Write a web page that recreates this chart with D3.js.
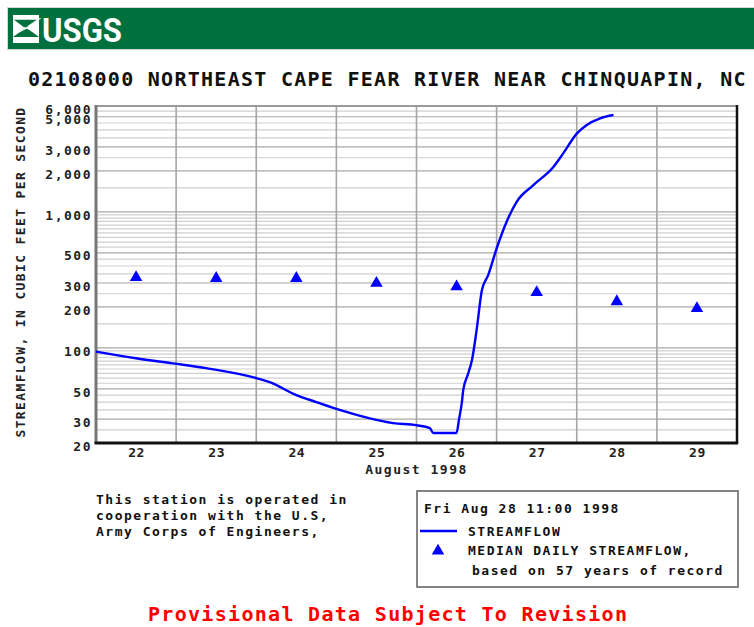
<!DOCTYPE html>
<html>
<head>
<meta charset="utf-8">
<script src="https://cdn.jsdelivr.net/npm/d3@7"></script>
<style>
  body { margin: 0; background: #fff; }
  svg { display: block; }
  .mono { font-family: "DejaVu Sans Mono", "Liberation Mono", monospace; font-weight: bold; }
</style>
</head>
<body>
<svg id="chart" width="754" height="627"></svg>
<script>
var stationTitle = "02108000 NORTHEAST CAPE FEAR RIVER NEAR CHINQUAPIN, NC";
var yTitle = "STREAMFLOW, IN CUBIC FEET PER SECOND";
var xTitle = "August 1998";

// streamflow, hours after Aug 22 00:00
var flowHours  = [0, 12, 23, 33, 48, 52, 60, 66, 73, 89, 96, 100, 101, 108, 108.7, 109.6, 110, 111.5, 112.6, 114, 115.6, 117.5, 120, 123, 126, 131, 137, 140, 144, 147, 151, 155];
var flowValues = [94, 84, 77, 71, 60, 56, 45, 40, 35, 28, 27, 25.7, 23.7, 23.7, 29.5, 40, 49, 65, 81, 135, 266, 344, 538, 846, 1186, 1572, 2140, 2700, 3760, 4350, 4870, 5150];

// median daily streamflow (57 years)
var medianDays   = ["1998-08-22", "1998-08-23", "1998-08-24", "1998-08-25", "1998-08-26", "1998-08-27", "1998-08-28", "1998-08-29"];
var medianValues = [330, 325, 325, 299, 282, 256, 219, 195];

var yTickValues = [20, 30, 50, 100, 200, 300, 500, 1000, 2000, 3000, 5000, 6000];
var noteLines = ["This station is operated in", "cooperation with the U.S,", "Army Corps of Engineers,"];
var legendDate = "Fri Aug 28 11:00 1998";

var parseDay = d3.timeParse("%Y-%m-%d");
var start = parseDay("1998-08-22");
var end = parseDay("1998-08-30");

var svg = d3.select("svg#chart");

var plot = { left: 96, right: 737, top: 106, bottom: 443 };

var x = d3.scaleTime().domain([start, end]).range([plot.left, plot.right]);
var y = d3.scaleLog().domain([20, 6000]).range([plot.bottom, plot.top]);

// header bar
svg.append("rect").attr("x", 7).attr("y", 7).attr("width", 748).attr("height", 43).attr("fill", "#cfd8d2");
svg.append("rect").attr("x", 8).attr("y", 8).attr("width", 746).attr("height", 41).attr("fill", "#00703f");
var logo = svg.append("g").attr("transform", "translate(13,15)");
logo.append("rect").attr("width", 26).attr("height", 28).attr("fill", "#fff");
logo.append("path").attr("d", "M0,4 L26,4 L14,13 L26,22 L0,22 L12,13 Z").attr("fill", "#00703f");
logo.append("path").attr("d", "M0,4 L26,4 L16,11 L26,11").attr("fill", "none").attr("stroke", "#fff").attr("stroke-width", 1.5);
[15, 17.5, 20].forEach(function(yy) {
  logo.append("path").attr("d", "M1," + yy + " Q8," + (yy - 4) + " 14,13 Q20," + (yy - 3) + " 25," + yy)
    .attr("fill", "none").attr("stroke", "#fff").attr("stroke-width", 1);
});
svg.append("text").attr("x", 42).attr("y", 42)
  .attr("font-family", "'Liberation Sans Narrow', 'Roboto', sans-serif").attr("font-weight", "bold")
  .attr("font-size", 33).attr("fill", "#fff")
  .attr("textLength", 80).attr("lengthAdjust", "spacingAndGlyphs")
  .text("USGS");

// title
svg.append("text").attr("class", "mono").attr("x", 28).attr("y", 86)
  .attr("font-size", 20).attr("letter-spacing", "1.27px").attr("fill", "#111")
  .text(stationTitle);

// grid: horizontal log lines
var gridValues = d3.range(20, 100, 5).concat(d3.range(100, 1000, 50)).concat(d3.range(1000, 6001, 500));
svg.append("g").selectAll("line").data(gridValues).enter().append("line")
  .attr("x1", plot.left).attr("x2", plot.right)
  .attr("y1", function(d) { return y(d); }).attr("y2", function(d) { return y(d); })
  .attr("stroke", function(d) { return yTickValues.indexOf(d) >= 0 ? "#a8a8a8" : "#cfcfcf"; })
  .attr("stroke-width", 1.2);

// grid: day boundaries
var dayLines = d3.timeDay.range(d3.timeDay.offset(start, 1), end);
svg.append("g").selectAll("line").data(dayLines).enter().append("line")
  .attr("x1", function(d) { return x(d); }).attr("x2", function(d) { return x(d); })
  .attr("y1", plot.top).attr("y2", plot.bottom)
  .attr("stroke", "#a5a5a5").attr("stroke-width", 1.6);

// frame
svg.append("line").attr("x1", plot.left).attr("x2", plot.right).attr("y1", plot.top).attr("y2", plot.top)
  .attr("stroke", "#9a9a9a").attr("stroke-width", 2);
svg.append("line").attr("x1", plot.right).attr("x2", plot.right).attr("y1", plot.top - 1).attr("y2", plot.bottom)
  .attr("stroke", "#111").attr("stroke-width", 2.5);
svg.append("line").attr("x1", plot.left).attr("x2", plot.left).attr("y1", plot.top - 1).attr("y2", plot.bottom)
  .attr("stroke", "#777").attr("stroke-width", 3);
svg.append("line").attr("x1", plot.left - 1.5).attr("x2", plot.right + 1.2).attr("y1", plot.bottom).attr("y2", plot.bottom)
  .attr("stroke", "#111").attr("stroke-width", 3);

// y axis labels
var yAxis = d3.axisLeft(y).tickValues(yTickValues).tickSize(0).tickPadding(0).tickFormat(d3.format(","));
var yAxisG = svg.append("g").attr("transform", "translate(" + (plot.left - 4) + ",3)").call(yAxis);
yAxisG.select(".domain").remove();
yAxisG.selectAll("text").attr("class", "mono").attr("font-size", 13).attr("letter-spacing", "1.5px").attr("fill", "#222");

// x axis labels at noon
var noon = d3.timeDay.range(start, end).map(function(d) { return d3.timeHour.offset(d, 12); });
var xAxis = d3.axisBottom(x).tickValues(noon).tickSize(0).tickPadding(0).tickFormat(d3.timeFormat("%d"));
var xAxisG = svg.append("g").attr("transform", "translate(0," + (plot.bottom + 5) + ")").call(xAxis);
xAxisG.select(".domain").remove();
xAxisG.selectAll("text").attr("class", "mono").attr("font-size", 13).attr("letter-spacing", "0.5px").attr("fill", "#222");

svg.append("text").attr("class", "mono").attr("x", (plot.left + plot.right) / 2).attr("y", 474)
  .attr("text-anchor", "middle").attr("font-size", 13).attr("letter-spacing", "1.5px").attr("fill", "#222")
  .text(xTitle);

svg.append("text").attr("class", "mono").attr("transform", "translate(25,272) rotate(-90)")
  .attr("text-anchor", "middle").attr("font-size", 13).attr("letter-spacing", "1.37px").attr("fill", "#222")
  .text(yTitle);

// streamflow line
var flow = flowHours.map(function(h, i) { return { date: d3.timeMinute.offset(start, Math.round(h * 60)), value: flowValues[i] }; });
var line = d3.line().curve(d3.curveMonotoneX)
  .x(function(d) { return x(d.date); }).y(function(d) { return y(d.value); });
svg.append("path").datum(flow).attr("d", line)
  .attr("fill", "none").attr("stroke", "#0000ff").attr("stroke-width", 2.4).attr("stroke-linejoin", "round");

// median triangles at noon
var tri = d3.symbol().type(d3.symbolTriangle).size(68);
svg.append("g").selectAll("path").data(medianDays).enter().append("path")
  .attr("d", tri)
  .attr("transform", function(d, i) { return "translate(" + x(d3.timeHour.offset(parseDay(d), 12)) + "," + y(medianValues[i]) + ")"; })
  .attr("fill", "#0000ff");

// note
svg.append("g").selectAll("text").data(noteLines).enter().append("text")
  .attr("class", "mono").attr("x", 96).attr("y", function(d, i) { return 504 + i * 16; })
  .attr("font-size", 13).attr("letter-spacing", "1.5px").attr("fill", "#111")
  .text(function(d) { return d; });

// legend
var legend = svg.append("g");
legend.append("rect").attr("x", 417).attr("y", 491).attr("width", 321).attr("height", 96)
  .attr("fill", "#fff").attr("stroke", "#666").attr("stroke-width", 1.6);
legend.append("text").attr("class", "mono").attr("x", 424).attr("y", 513)
  .attr("font-size", 13).attr("letter-spacing", "1.5px").attr("fill", "#111").text(legendDate);
legend.append("line").attr("x1", 420).attr("x2", 457).attr("y1", 531).attr("y2", 531)
  .attr("stroke", "#0000ff").attr("stroke-width", 2.4);
legend.append("text").attr("class", "mono").attr("x", 468).attr("y", 536)
  .attr("font-size", 13).attr("letter-spacing", "1.5px").attr("fill", "#111").text("STREAMFLOW");
legend.append("path").attr("d", tri).attr("transform", "translate(438,551)").attr("fill", "#0000ff");
legend.append("text").attr("class", "mono").attr("x", 468).attr("y", 555)
  .attr("font-size", 13).attr("letter-spacing", "1.5px").attr("fill", "#111").text("MEDIAN DAILY STREAMFLOW,");
legend.append("text").attr("class", "mono").attr("x", 472).attr("y", 575)
  .attr("font-size", 13).attr("letter-spacing", "1.5px").attr("fill", "#111").text("based on 57 years of record");

// footer
svg.append("text").attr("class", "mono").attr("x", 148).attr("y", 621)
  .attr("font-size", 20).attr("letter-spacing", "1.3px").attr("fill", "#ff0000")
  .text("Provisional Data Subject To Revision");
</script>
</body>
</html>
